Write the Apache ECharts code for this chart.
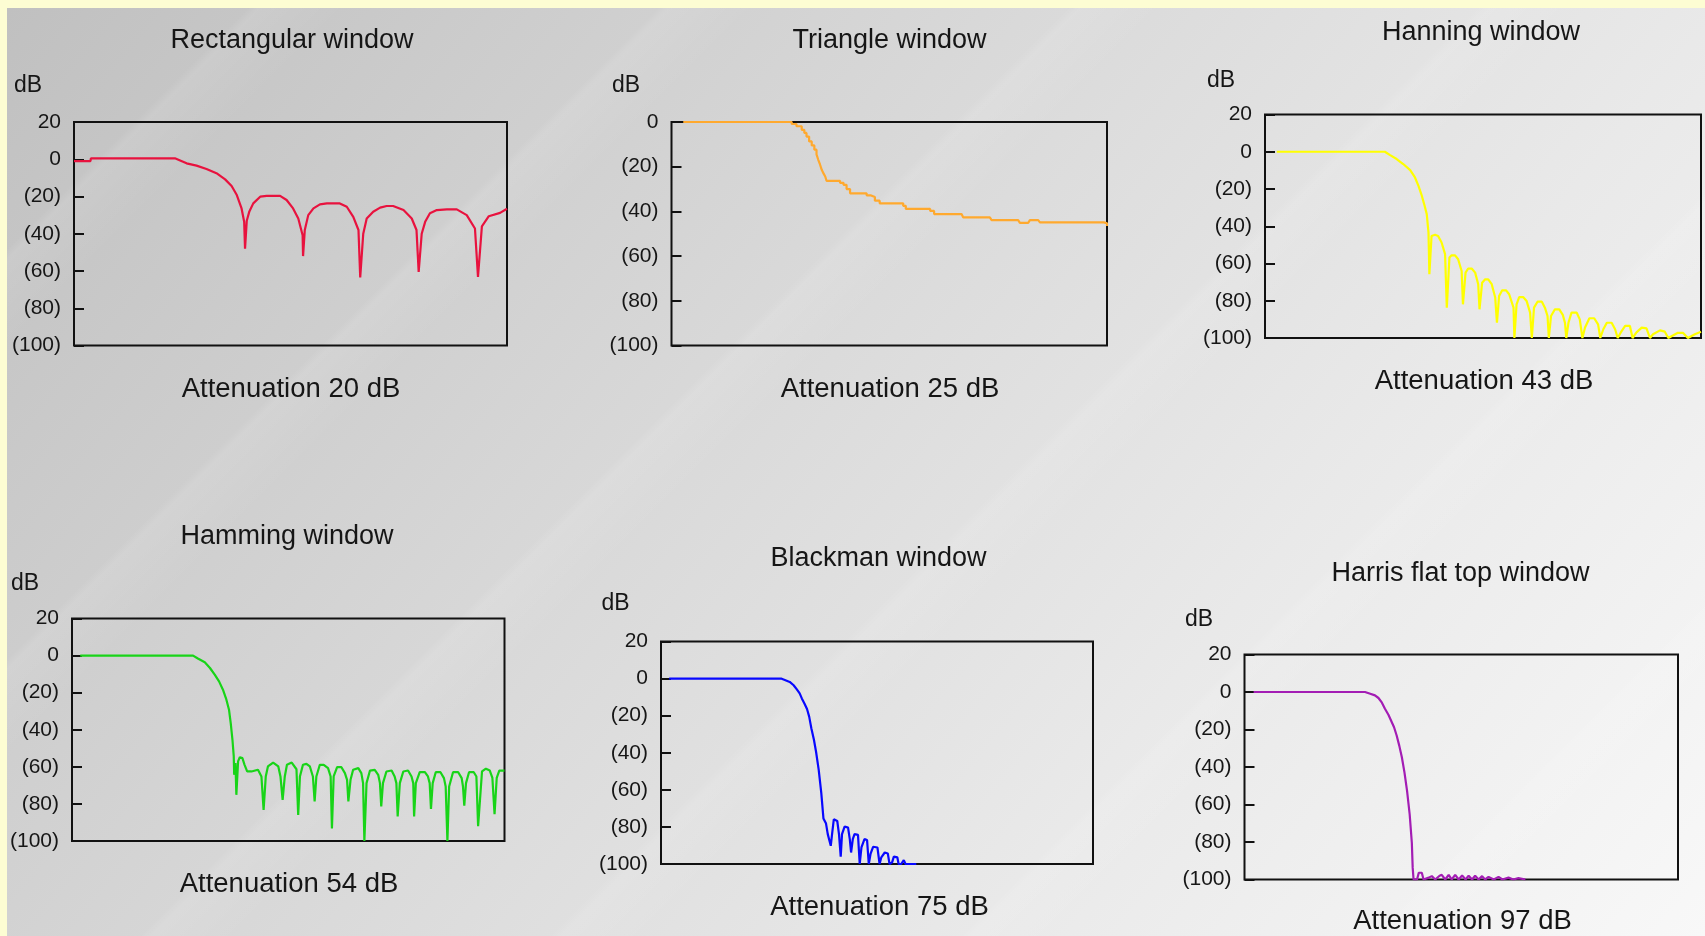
<!DOCTYPE html>
<html>
<head>
<meta charset="utf-8">
<title>Window functions – spectral leakage</title>
<script src="https://cdn.jsdelivr.net/npm/echarts@6/dist/echarts.min.js"></script>
<style>
  html, body { margin: 0; padding: 0; width: 1705px; height: 936px; overflow: hidden; background: #fdfdd3; }
  #panel {
    position: absolute; left: 7px; top: 8px; right: 0; bottom: 0;
    background:
      repeating-linear-gradient(135deg,
        rgba(255,255,255,0) 0px, rgba(255,255,255,0) 170px,
        rgba(255,255,255,0.10) 178px, rgba(255,255,255,0.04) 215px,
        rgba(255,255,255,0) 240px, rgba(255,255,255,0) 290px),
      linear-gradient(129deg, #c0c0c0 0%, #d8d8d8 40%, #e9e9e9 70%, #f8f8f8 100%);
  }
  #chart { position: absolute; left: 0; top: 0; width: 1705px; height: 936px; }
</style>
</head>
<body>
<div id="panel"></div>
<div id="chart"></div>
<script>
// ---- data ---------------------------------------------------------------
const windowNames = ['Rectangular window', 'Triangle window', 'Hanning window',
                     'Hamming window', 'Blackman window', 'Harris flat top window'];
const attenuationDb = [20, 25, 43, 54, 75, 97];
const axisTopDb = [20, 0, 20, 20, 20, 20];
const axisBottomDb = -100;
const tickStepDb = 20;

// magnitude response, [relative frequency (0..100), dB]
const rectangularCurve = [
  [0,-1],[3.8,-1],[3.9,0.5],[23.3,0.5],[26,-2.2],[28.3,-3.4],[30.6,-5.2],[32.9,-7.5],
  [34.9,-10.8],[36.4,-14.4],[37.6,-19.2],[38.7,-26.4],[39.3,-33.6],[39.5,-48],[39.7,-48],
  [39.9,-33],[40.5,-28],[41.4,-23.7],[43,-20.1],[44.5,-19.7],[47.6,-19.7],[49.1,-21.9],
  [50.6,-26.4],[51.8,-31.8],[52.8,-40.8],[52.9,-52],[53.1,-52],[53.3,-38],[54.1,-30],
  [55.3,-26.4],[56.8,-24.2],[58.4,-23.7],[61.4,-23.7],[63,-25.5],[64.5,-30.9],[65.7,-38],
  [66.1,-63.5],[66.3,-63.5],[66.8,-40],[67.6,-31.8],[69.1,-28.2],[70.7,-26],[72.2,-25.1],
  [73.7,-25.1],[76.1,-27.3],[78,-31.8],[79.1,-38],[79.6,-60.5],[79.8,-60.5],[80.3,-40],
  [81.1,-33.6],[82.2,-29],[83.8,-27.3],[86.1,-26.9],[88.4,-26.9],[90.7,-30],[92.6,-37.2],
  [93.3,-63.2],[93.5,-63.2],[94.2,-36],[95.8,-30.6],[98.4,-28.8],[100,-26.6]
];
const triangleCurve = [
  [2.7,0],[27.6,-0.9],[28.7,-1.9],[29.9,-3.5],[30.5,-4.9],[31,-6.5],[31.6,-8.7],[32.2,-10.5],
  [32.8,-12.4],[33.3,-14.5],[33.7,-16.9],[34.1,-19],[34.5,-21.4],[34.9,-23],[35.3,-24.4],
  [35.6,-26.3],[38.7,-27.2],[39.5,-28.1],[40.2,-30],[41,-31.9],[44.8,-32.8],[45.7,-33.6],
  [46.7,-35.2],[47.8,-36.4],[53.2,-37.5],[53.8,-38.9],[59.4,-39.8],[60.3,-41.2],[66.6,-41.6],
  [67,-42.7],[73.1,-43.3],[73.5,-43.9],[79.6,-44.5],[80,-45.1],[81.9,-45.1],[82.3,-43.9],
  [84.2,-43.9],[84.6,-44.9],[99.3,-45.3],[100,-46.5]
];
const hanningCurve = [
  [2.7,0],[27.5,0],[28.7,-1.8],[30.2,-3.9],[31.7,-6.6],[33.3,-9.9],[34.4,-13.8],[35.2,-18.3],
  [35.9,-23.1],[36.5,-28.1],[37.1,-33.5],[37.5,-43.4],[37.7,-65.8],[37.9,-65.8],[38.2,-45.2],
  [39,-44.6],[39.7,-45.2],[40.5,-48.7],[41.3,-55],[41.7,-83.7],[41.9,-83.7],[42.3,-56.8],
  [42.8,-55.6],[43.6,-55.6],[44.3,-57.7],[45.1,-64],[45.4,-81.9],[45.6,-81.9],[46,-64.9],
  [46.6,-62.7],[47.4,-62.7],[48.2,-64.9],[48.9,-71.1],[49.2,-84.6],[49.4,-84.6],[49.8,-70.3],
  [50.5,-68.5],[51.2,-68.5],[52,-71.1],[52.8,-78.3],[53.2,-91.8],[53.4,-91.8],[53.7,-77.4],
  [54.4,-74.4],[55.3,-74.4],[56,-76.5],[57,-83.7],[57.2,-100],[57.4,-100],[57.7,-81.9],
  [58.3,-78],[59.2,-78],[60,-80.1],[60.8,-86.4],[61.2,-100],[61.4,-100],[61.7,-83.7],
  [62.5,-80.5],[63.5,-80.5],[64.2,-83.7],[64.8,-88.2],[65.1,-100],[65.3,-100],[65.6,-88.2],
  [66.5,-84.6],[67.5,-84.6],[68.3,-87.6],[68.8,-91.8],[69.1,-100],[69.3,-100],[69.6,-91.8],
  [70.3,-86.4],[71.5,-86.4],[72.2,-90],[72.8,-100],[73,-100],[73.4,-94.4],[74.4,-89.4],
  [75.5,-89.4],[76.4,-92.7],[76.9,-100],[77.1,-100],[77.6,-95.3],[78.4,-91.8],[79.5,-91.8],
  [80.3,-95.3],[80.9,-100],[81.1,-100],[81.6,-97],[82.6,-93.5],[83.7,-93.5],[84.3,-100],
  [84.5,-100],[85.2,-97],[86.4,-94.4],[87.5,-94.8],[88.3,-100],[88.5,-100],[89,-98],
  [90.6,-95.9],[91.7,-96.6],[92.5,-100],[92.7,-100],[94.6,-97.3],[95.9,-97.3],[97,-100],
  [98.6,-98],[100,-96.6]
];
const hammingCurve = [
  [1.9,0],[28,0],[29.1,-1.6],[30.7,-3.6],[31.9,-6.7],[33,-10.3],[34,-13.9],[34.9,-18.4],
  [35.7,-23.8],[36.3,-29.2],[36.7,-36.4],[37.1,-45.4],[37.4,-54.4],[37.5,-64.3],[37.8,-58],
  [38,-75.1],[38.4,-57.1],[38.8,-54.8],[39.4,-55.3],[39.9,-58.9],[40.5,-62.5],[41.5,-62.5],
  [43,-61.6],[43.8,-65.2],[44.3,-83.2],[44.8,-65.2],[45.3,-59.8],[46.5,-57.7],[47.7,-59.8],
  [48.2,-65.2],[48.7,-77.8],[49.2,-65.2],[49.7,-58.9],[50.8,-57.7],[51.9,-61.3],[52.3,-86],
  [52.7,-65.2],[53.4,-58.9],[54.2,-58.4],[55,-59.8],[55.7,-65.2],[56.1,-78.7],[56.5,-65.2],
  [57.3,-58.9],[58.2,-58.9],[59.2,-60.7],[59.8,-65.2],[60.1,-93.2],[60.5,-65.2],[61.3,-60.2],
  [62.3,-60.2],[63.1,-63.4],[63.6,-67],[63.9,-78.7],[64.4,-67],[65,-61.6],[66.2,-60.7],
  [66.9,-63.4],[67.3,-68.8],[67.6,-100],[68.1,-68.8],[68.9,-62],[70,-61.6],[70.8,-64.3],
  [71.2,-68.8],[71.5,-81.4],[71.9,-68.8],[72.7,-62.5],[73.9,-62],[74.6,-65.2],[75,-68.8],
  [75.3,-86.8],[75.8,-68.8],[76.6,-62.5],[77.7,-62],[78.5,-65.2],[78.9,-68.8],[79.1,-86.8],
  [79.5,-68.8],[80.4,-62.9],[81.6,-62.9],[82.3,-65.2],[82.7,-68.8],[83,-82.7],[83.4,-68.8],
  [84.1,-62.9],[85.2,-62.9],[86,-66.1],[86.4,-70.6],[86.8,-100],[87.2,-70.6],[88.1,-62.9],
  [89.3,-62.9],[90.1,-66.1],[90.4,-70.6],[90.7,-80.9],[91.1,-68.8],[91.8,-62.9],[92.9,-62.9],
  [93.5,-65.2],[93.9,-92],[94.8,-62.5],[95.7,-61],[96.6,-62],[97.2,-66],[97.7,-85.5],
  [98.2,-66],[98.8,-62],[100,-62]
];
const blackmanCurve = [
  [1.9,0],[27.8,0],[27.9,-0.9],[29.8,-1.8],[30.7,-3.6],[31.4,-5.7],[32.1,-8],[32.6,-10.7],
  [33.2,-13.4],[33.8,-16.4],[34.3,-20.5],[34.8,-26.8],[35.4,-33],[35.9,-39.6],[36.5,-49.1],
  [37.1,-61.6],[37.6,-75.4],[38.2,-78.2],[38.6,-83.9],[39.3,-90.2],[39.6,-83.9],[40,-75.9],
  [40.8,-76.8],[41.2,-83.9],[41.6,-96],[41.9,-83.9],[42.5,-79.8],[43.3,-80.4],[43.7,-86.6],
  [44,-93.8],[44.4,-86.6],[44.8,-83.9],[45.6,-84.3],[46,-100],[46.4,-91.1],[47.1,-86.6],
  [47.7,-87.1],[48.1,-100],[48.5,-94.6],[49.1,-90.7],[50.1,-91.1],[50.6,-100],[51,-96.4],
  [51.8,-93.8],[52.5,-94.3],[52.9,-100],[53.5,-99.1],[53.9,-96],[54.7,-96.4],[55,-100],
  [55.6,-100],[56.2,-97.9],[56.6,-100],[59.1,-100]
];
const harrisCurve = [
  [2.1,0],[27.8,0],[29,-0.9],[30.1,-1.8],[30.9,-3.2],[31.7,-5.7],[32.4,-8.9],[33.2,-12.1],
  [33.8,-15.2],[34.5,-18.8],[35.1,-23.2],[35.7,-28.6],[36.3,-34.8],[36.9,-42.9],[37.5,-52.7],
  [38.1,-65.2],[38.6,-80.4],[38.8,-93.8],[39,-100],[39.8,-100],[40.2,-96.4],[40.9,-96.4],
  [41.3,-100],[42.5,-99],[43.2,-98.2],[44,-100],[45,-98],[45.5,-97.5],[46.3,-100],[47.1,-97.5],
  [47.8,-100],[48.6,-97.5],[49.4,-100],[50.2,-97.9],[51,-100],[51.7,-98],[52.5,-100],
  [53.2,-98],[54,-100],[54.8,-98.2],[55.5,-100],[56.3,-98.6],[57.5,-100],[58.6,-98.6],
  [59.5,-100],[60.9,-99],[62,-100],[63.2,-99.3],[64.8,-100]
];

const curves = [rectangularCurve, triangleCurve, hanningCurve,
                hammingCurve, blackmanCurve, harrisCurve];

// ---- layout & style -----------------------------------------------------
const lineColors = ['#e8123e', '#ffa92e', '#ffff00', '#18d418', '#0808ff', '#a31db4'];
const stepped = [false, 'end', false, false, false, false];

const panels = [
  { left: 74,     top: 122,   width: 433,   height: 223.5, titleX: 292,    titleY: 40.5, capX: 291,    capY: 389,   dbX: 28,    dbY: 85.5 },
  { left: 671.5,  top: 122,   width: 435.5, height: 223.5, titleX: 889.5,  titleY: 40.5, capX: 890,    capY: 389,   dbX: 626,   dbY: 85.5 },
  { left: 1265,   top: 114.5, width: 436,   height: 223.5, titleX: 1481,   titleY: 33,   capX: 1484,   capY: 381,   dbX: 1221,  dbY: 80.3 },
  { left: 72,     top: 618.5, width: 432.5, height: 222.5, titleX: 287,    titleY: 537,  capX: 289,    capY: 884,   dbX: 25,    dbY: 583.7 },
  { left: 661,    top: 641.5, width: 432,   height: 222.5, titleX: 878.5,  titleY: 559,  capX: 879.5,  capY: 907.5, dbX: 615.5, dbY: 603.7 },
  { left: 1244.5, top: 654.5, width: 433.5, height: 225,   titleX: 1460.5, titleY: 574,  capX: 1462.5, capY: 921,   dbX: 1199,  dbY: 620 }
];

const FONT = '"Liberation Sans", Arial, Helvetica, sans-serif';
const INK = '#161616';

function dbLabel(v) {
  return v < 0 ? '(' + (-v) + ')' : String(v);
}

function textEl(x, y, text, size) {
  return {
    type: 'text', x: x, y: y, silent: true,
    style: {
      text: text, fill: INK, fontSize: size, fontFamily: FONT,
      align: 'center', verticalAlign: 'middle',
      textAlign: 'center', textVerticalAlign: 'middle'
    }
  };
}

const graphics = [];
panels.forEach((p, i) => {
  graphics.push(textEl(p.titleX, p.titleY, windowNames[i], 27));
  graphics.push(textEl(p.capX, p.capY, 'Attenuation ' + attenuationDb[i] + ' dB', 27.5));
  graphics.push(textEl(p.dbX, p.dbY, 'dB', 23));
});

const option = {
  backgroundColor: 'transparent',
  animation: false,
  grid: panels.map(p => ({
    left: p.left, top: p.top, width: p.width, height: p.height,
    show: true, borderColor: '#111', borderWidth: 2, backgroundColor: 'transparent'
  })),
  xAxis: panels.map((p, i) => ({
    gridIndex: i, type: 'value', min: 0, max: 100, show: false
  })),
  yAxis: panels.map((p, i) => ({
    gridIndex: i, type: 'value',
    min: axisBottomDb, max: axisTopDb[i], interval: tickStepDb,
    axisLine: { show: false },
    axisTick: { show: true, inside: true, length: 10, lineStyle: { color: '#111', width: 2 } },
    splitLine: { show: false },
    axisLabel: { margin: 13, fontSize: 21, color: INK, fontFamily: FONT, formatter: dbLabel }
  })),
  series: curves.map((d, i) => ({
    type: 'line', name: windowNames[i],
    xAxisIndex: i, yAxisIndex: i,
    data: d,
    step: stepped[i],
    symbol: 'none', showSymbol: false,
    lineStyle: { color: lineColors[i], width: 2.2 },
    itemStyle: { color: lineColors[i] },
    z: 5
  })),
  graphic: { elements: graphics }
};

const chart = echarts.init(document.getElementById('chart'), null, { renderer: 'canvas' });
chart.setOption(option);
</script>
</body>
</html>
